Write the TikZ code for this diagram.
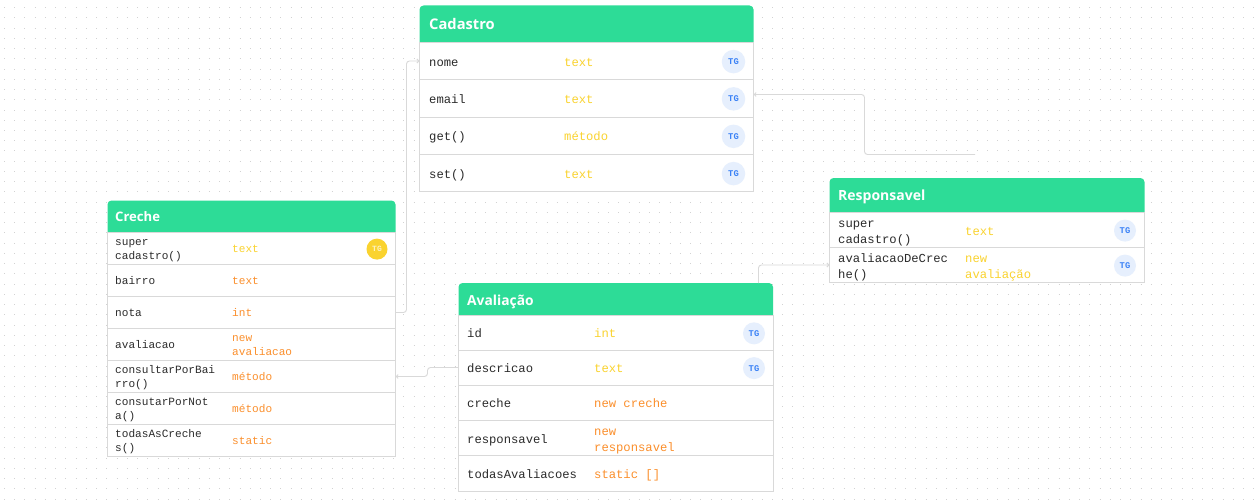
\documentclass[tikz,border=0pt]{standalone}
\usepackage{fontspec}
\setmainfont{Open Sans}
\setmonofont{Liberation Mono}
\usetikzlibrary{arrows.meta}
\definecolor{verde}{HTML}{2ddc97}
\definecolor{borda}{HTML}{d9d9d9}
\definecolor{ponto}{HTML}{d2d2d2}
\definecolor{tinta}{HTML}{2b2b2b}
\definecolor{amarelo}{HTML}{fad32f}
\definecolor{laranja}{HTML}{fb8f2c}
\definecolor{azul}{HTML}{3b82f6}
\definecolor{azulclaro}{HTML}{e6effd}

\begin{document}
\begin{tikzpicture}[x=1pt,y=-1pt,
  linha/.style={draw=borda, fill=white, line width=1pt, inner sep=0pt, outer sep=0pt},
  cab/.style={fill=verde},
  titulo/.style={anchor=base west, inner sep=0pt, text=white, font=\bfseries},
  campo/.style={anchor=west, inner sep=0pt, align=left, text=tinta, yshift=-2pt},
  tag/.style={circle, fill=azulclaro, text=azul, inner sep=0pt, yshift=-0.6pt, font=\ttfamily\bfseries\fontsize{8.8}{8.8}\selectfont},
  liga/.style={draw=borda, line width=0.9pt, rounded corners=3pt, {Straight Barb[length=2pt,width=4pt]}-}]
\useasboundingbox (0,0) rectangle (1254,503);
% fundo pontilhado
\fill[white] (0,0) rectangle (1254,503);
\foreach \j in {0,...,48} \draw[ponto, line width=1pt, dash pattern=on 1pt off 9.24pt] (4,{floor(7.6+10.24*\j)+0.5}) -- (1254,{floor(7.6+10.24*\j)+0.5});
% cabecalhos
\foreach \id/\xa/\xb/\ya/\yb/\xt/\yt/\t/\s in {
  cadCab/419.5/753.5/5.5/42.5/429/30/Cadastro/14.7,
  creCab/107.5/395.5/200.5/232.5/115/221/Creche/13.1,
  avaCab/458.5/773/283/315.5/467/305.3/Avaliação/13.8,
  resCab/829.5/1144.5/178/212.5/838/200/Responsavel/14} {
  \fill[cab] (\xa,\yb) [rounded corners=4pt] -- (\xa,\ya) -- (\xb,\ya) [sharp corners] -- (\xb,\yb) -- cycle;
  \node[titulo] (\id) at (\xt,\yt) {\fontsize{\s}{\s}\selectfont \t};
}
% Cadastro
\foreach \id/\y/\h/\a/\b/\c in {
  cadNome/61/37/nome/text/amarelo,
  cadEmail/98.25/37.5/email/text/amarelo,
  cadGet/135.75/37.5/get()/método/amarelo,
  cadSet/173/37/set()/text/amarelo} {
  \node[linha, minimum width=334pt, minimum height=\h pt] (\id) at (586.5,\y) {};
  \node[campo, font=\ttfamily\fontsize{12.2}{16}\selectfont] (\id N) at (429,\y) {\strut\a\strut};
  \node[campo, text=\c, font=\ttfamily\fontsize{12.2}{16}\selectfont] (\id T) at (564,\y) {\strut\b\strut};
  \node[tag, minimum size=23.5pt] (\id G) at (733.5,\y) {TG};
}
% Creche
\foreach \id/\y/\a/\b/\c in {
  creSuper/248.5/{super\\cadastro()}/text/amarelo,
  creBairro/280.5/bairro/text/laranja,
  creNota/312.5/nota/int/laranja,
  creAvaliacao/344.5/avaliacao/{new\\avaliacao}/laranja,
  creConsulta/376.5/{consultarPorBai\\rro()}/método/laranja,
  creNotaCons/408.5/{consutarPorNot\\a()}/método/laranja,
  creTodas/440.5/{todasAsCreche\\s()}/static/laranja} {
  \node[linha, minimum width=288pt, minimum height=32pt] (\id) at (251.5,\y) {};
  \node[campo, yshift=0.8pt, font=\ttfamily\fontsize{11.1}{14.5}\selectfont] (\id N) at (115,\y) {\strut\a\strut};
  \node[campo, yshift=0.8pt, text=\c, font=\ttfamily\fontsize{11.1}{14.5}\selectfont] (\id T) at (232,\y) {\strut\b\strut};
}
\node[tag, fill=amarelo, text=white!70!amarelo, minimum size=21pt, font=\ttfamily\bfseries\fontsize{8}{8}\selectfont] (creSuperG) at (377,248.5) {TG};
% Avaliacao
\foreach \id/\y/\h/\a/\b/\c in {
  avaId/332.75/34.5/id/int/amarelo,
  avaDescricao/367.5/35/descricao/text/amarelo,
  avaCreche/402.75/35.5/creche/new creche/laranja,
  avaResponsavel/438/35/responsavel/{new\\responsavel}/laranja,
  avaTodas/473.5/36/todasAvaliacoes/static []/laranja} {
  \node[linha, minimum width=314.5pt, minimum height=\h pt] (\id) at (615.75,\y) {};
  \node[campo, font=\ttfamily\fontsize{12.2}{16}\selectfont] (\id N) at (467,\y) {\strut\a\strut};
  \node[campo, text=\c, font=\ttfamily\fontsize{12.2}{16}\selectfont] (\id T) at (594,\y) {\strut\b\strut};
}
\foreach \id/\y in {avaId/332.75,avaDescricao/367.5} \node[tag, minimum size=22pt] (\id G) at (754,\y) {TG};
% Responsavel
\foreach \id/\y/\a/\b in {
  resSuper/230/{super\\cadastro()}/text,
  resAvaliacao/265/{avaliacaoDeCrec\\he()}/{new\\avaliação}} {
  \node[linha, minimum width=315pt, minimum height=35pt] (\id) at (987,\y) {};
  \node[campo, font=\ttfamily\fontsize{12.2}{16}\selectfont] (\id N) at (838,\y) {\strut\a\strut};
  \node[campo, text=amarelo, font=\ttfamily\fontsize{12.2}{16}\selectfont] (\id T) at (965,\y) {\strut\b\strut};
  \node[tag, minimum size=22pt] (\id G) at (1125,\y) {TG};
}
% ligacoes
\coordinate (fimEmail) at (975,154.5);
\coordinate (avaTopo) at (758.5,283);
\draw[liga] (cadNome.west) -- ++(-13,0) |- (creNota.east);
\draw[liga] ([yshift=3.75pt]cadEmail.east) -- ++(111,0) |- (fimEmail);
\draw[liga] (creConsulta.east) -- ++(32,0) |- (avaDescricao.west);
\draw[liga] (resAvaliacao.west) -| (avaTopo);
\end{tikzpicture}
\end{document}
